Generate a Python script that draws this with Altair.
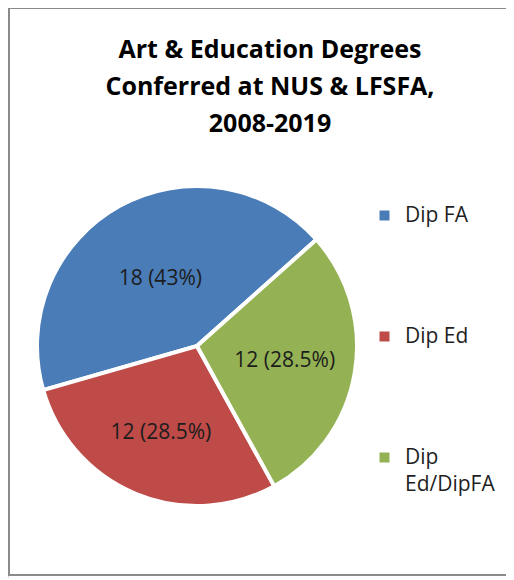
import math
import altair as alt
import pandas as pd

categories = ["Dip FA", "Dip Ed", "Dip Ed/DipFA"]
counts = [18, 12, 12]
labels = ["18 (43%)", "12 (28.5%)", "12 (28.5%)"]
draw_order = [0, 2, 1]
colors = ["#4A7CB8", "#BE4B48", "#94B254"]

df = pd.DataFrame({"cat": categories, "n": counts, "lab": labels, "ord": draw_order})

start = math.radians(254)
theta_scale = alt.Scale(range=[start, start + 2 * math.pi])
cx, cy = 189, 338

base = alt.Chart(df)

pie = base.mark_arc(outerRadius=160, stroke="white", strokeWidth=4).encode(
    theta=alt.Theta("n:Q", stack=True, scale=theta_scale),
    order=alt.Order("ord:Q"),
    color=alt.Color(
        "cat:N",
        scale=alt.Scale(domain=categories, range=colors),
        legend=alt.Legend(
            title=None,
            orient="none",
            legendX=366,
            legendY=197,
            symbolType="square",
            symbolSize=100,
            symbolStrokeWidth=0,
            symbolOpacity=1,
            labelFont="Open Sans",
            labelFontSize=21,
            labelColor="#1f1f1f",
            labelOffset=10,
            labelLimit=200,
            rowPadding=99,
            padding=0,
            labelExpr="datum.label == 'Dip Ed/DipFA' ? ['Dip', 'Ed/DipFA'] : datum.label",
        ),
    ),
    x=alt.value(cx),
    y=alt.value(cy),
)

text = base.mark_text(font="Open Sans", fontSize=21, color="#1c1c1c").transform_window(
    cum="sum(n)", sort=[alt.SortField("ord", order="ascending")], frame=[None, 0]
).transform_calculate(
    mid="datum.cum - datum.n / 2",
    lr="datum.cat == 'Dip FA' ? 76 : (datum.cat == 'Dip Ed' ? 94 : 89)",
).encode(
    theta=alt.Theta("mid:Q", stack=False, scale=theta_scale),
    radius=alt.Radius("lr:Q", scale=None, stack=False),
    text="lab:N",
    x=alt.value(cx),
    y=alt.value(cy),
)

frame_data = alt.Data(values=[{"a": 1}])
frame_style = dict(color="#8a8a8a", strokeWidth=2)
left = alt.Chart(frame_data).mark_rule(**frame_style).encode(
    x=alt.value(1), y=alt.value(0), y2=alt.value(567))
top = alt.Chart(frame_data).mark_rule(**frame_style).encode(
    x=alt.value(0), x2=alt.value(498), y=alt.value(0))
bottom = alt.Chart(frame_data).mark_rule(**frame_style).encode(
    x=alt.value(0), x2=alt.value(498), y=alt.value(567))

chart = alt.layer(pie, text, left, top, bottom).properties(
    width=498,
    height=570,
    autosize=alt.AutoSizeParams(type="none"),
    padding=0,
    title=alt.Title(
        ["Art & Education Degrees", "Conferred at NUS & LFSFA,", "2008-2019"],
        font="Open Sans",
        fontSize=25,
        fontWeight="bold",
        color="#000000",
        lineHeight=37,
        anchor="middle",
        frame="group",
        dx=13,
        offset=-130,
    ),
).configure_view(strokeOpacity=0).configure(
    background="white", style={"guide-label": {"lineHeight": 27}}
)

chart.save("out.html", embed_options={"renderer": "svg", "actions": False})
